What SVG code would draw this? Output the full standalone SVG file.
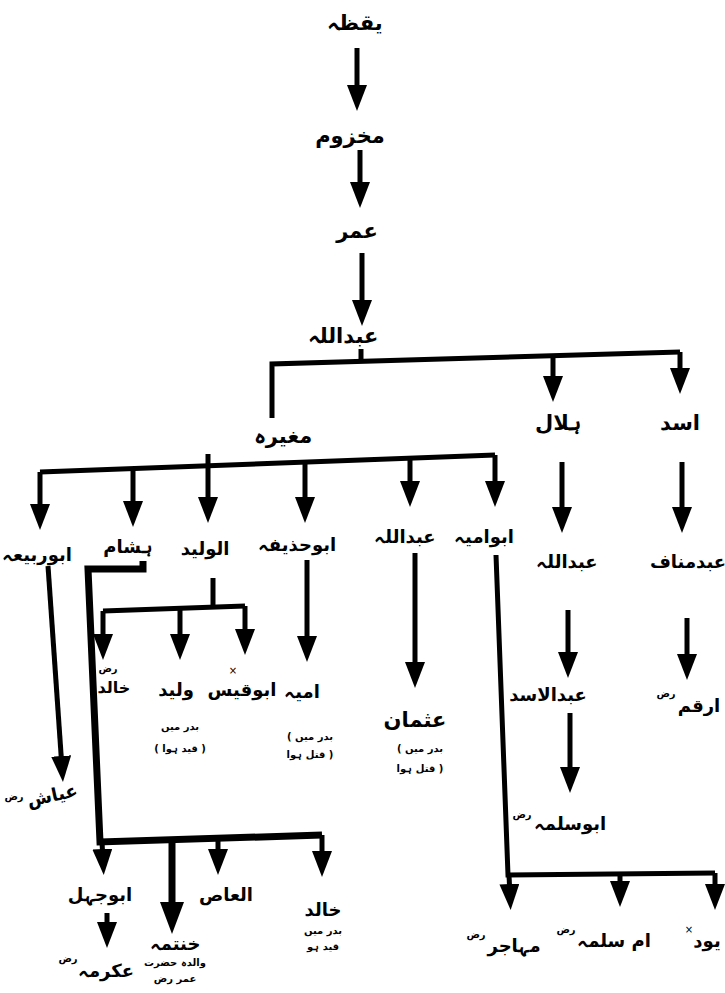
<svg xmlns="http://www.w3.org/2000/svg" width="725" height="993" viewBox="0 0 725 993">
<style>
.c{fill:none;stroke:#000;stroke-width:5;stroke-linejoin:miter}
.ca{fill:none;stroke:#000;stroke-width:5;marker-end:url(#ah)}
.cb{fill:none;stroke:#000;stroke-width:7;marker-end:url(#ahb)}
.n{font-family:"DejaVu Sans","Noto Sans",sans-serif;font-size:21px;font-weight:bold;fill:#000;text-anchor:middle}
.k{font-family:"DejaVu Sans","Noto Sans",sans-serif;font-size:18px;font-weight:bold;fill:#000;text-anchor:middle}
.s{font-family:"DejaVu Sans","Noto Sans",sans-serif;font-size:10px;font-weight:bold;fill:#000;text-anchor:middle}
.m{font-family:"DejaVu Sans","Noto Sans",sans-serif;font-size:10px;fill:#000;text-anchor:middle}
</style>
<defs>
<marker id="ah" markerUnits="userSpaceOnUse" viewBox="0 -10 26 20" refX="12" refY="0" markerWidth="26" markerHeight="20" orient="auto">
<path d="M0,-10 L26,0 L0,10 z" fill="#000"/>
</marker>
<marker id="ahb" markerUnits="userSpaceOnUse" viewBox="0 -12 32 24" refX="14" refY="0" markerWidth="32" markerHeight="24" orient="auto">
<path d="M0,-12 L32,0 L0,12 z" fill="#000"/>
</marker>
</defs>
<rect width="725" height="993" fill="#fff"/>
<g id="connectors">
<path class="ca" d="M357,48 L357,97"/>
<path class="ca" d="M360,150 L360,194"/>
<path class="ca" d="M362,253 L362,312"/>
<path class="c" d="M361,349 L361,362"/>
<path class="c" d="M272,418 L272,364 L680,352"/>
<path class="ca" d="M553,356 L553,388"/>
<path class="ca" d="M680,352 L680,380"/>
<path class="c" d="M40,472 L495,455"/>
<path class="c" d="M208,454 L208,466"/>
<path class="ca" d="M40,472 L40,516"/>
<path class="ca" d="M133,469 L133,513"/>
<path class="ca" d="M208,466 L208,509"/>
<path class="ca" d="M305,462 L305,509"/>
<path class="ca" d="M410,458 L410,493"/>
<path class="ca" d="M495,455 L495,493"/>
<path class="ca" d="M562,462 L562,519"/>
<path class="ca" d="M682,462 L682,519"/>
<path class="ca" d="M568,610 L568,664"/>
<path class="ca" d="M687,618 L687,666"/>
<path class="ca" d="M570,713 L570,779"/>
<path class="ca" d="M415,553 L415,674"/>
<path class="ca" d="M307,560 L307,648"/>
<path class="ca" d="M48,566 L62,768"/>
<path class="c" d="M213,578 L213,609"/>
<path class="c" d="M103,611 L245,606"/>
<path class="ca" d="M103,611 L103,646"/>
<path class="ca" d="M180,608 L180,646"/>
<path class="ca" d="M245,606 L245,641"/>
<path class="c" d="M496,555 L508,875 L715,873"/>
<path class="ca" d="M509,875 L510,896"/>
<path class="ca" d="M620,874 L620,893"/>
<path class="ca" d="M715,873 L715,896"/>
<path class="c" style="stroke-width:7" d="M143,561 L143,569 L88,569 L100,842 L322,835"/>
<path class="ca" d="M102,842 L103,861"/>
<path class="cb" d="M172,840 L172,916"/>
<path class="ca" d="M218,839 L218,861"/>
<path class="ca" d="M322,835 L322,863"/>
<path class="ca" d="M107,913 L107,934"/>
</g>
<g id="n-yaqza"><text class="n" x="355" y="30">یقظہ</text></g>
<g id="n-makhzum"><text class="n" x="350" y="143">مخزوم</text></g>
<g id="n-umar"><text class="n" x="357" y="238">عمر</text></g>
<g id="n-abdullah1"><text class="n" x="343" y="343">عبداللہ</text></g>
<g id="n-mughira"><text class="n" x="283" y="443">مغیرہ</text></g>
<g id="n-hilal"><text class="n" x="558" y="430">ہلال</text></g>
<g id="n-asad"><text class="n" x="680" y="430">اسد</text></g>
<g id="n-aburabia"><text class="k" x="37" y="561">ابوربیعہ</text></g>
<g id="n-hisham"><text class="k" x="128" y="553">ہشام</text></g>
<g id="n-walid"><text class="k" x="205" y="555">الولید</text></g>
<g id="n-abuhudhaifa"><text class="k" x="297" y="551">ابوحذیفہ</text></g>
<g id="n-abdullah2"><text class="k" x="405" y="543">عبداللہ</text></g>
<g id="n-abuumayya"><text class="k" x="484" y="543">ابوامیہ</text></g>
<g id="n-abdullah3"><text class="k" x="567" y="568">عبداللہ</text></g>
<g id="n-abdmanaf"><text class="k" x="688" y="568">عبدمناف</text></g>
<g id="n-arqam"><text class="k" x="699" y="712">ارقم</text><text class="s" x="666" y="697">رض</text></g>
<g id="n-abdulasad"><text class="k" x="548" y="701">عبدالاسد</text></g>
<g id="n-abusalama"><text class="k" x="570" y="830">ابوسلمہ</text><text class="s" x="522" y="818">رض</text></g>
<g id="n-ayyash"><text class="k" x="52" y="803" transform="rotate(-12 45 795)">عیاش</text><text class="s" x="14" y="800">رض</text></g>
<g id="n-khalid1"><text class="k" x="114" y="693" style="font-size:16px">خالد</text><text class="s" x="108" y="672">رض</text></g>
<g id="n-walid2"><text class="k" x="176" y="696">ولید</text><text class="s" x="180" y="730">بدر میں</text><text class="s" x="180" y="752">( قید ہوا )</text></g>
<g id="n-abuqais"><text class="k" x="242" y="696">ابوقیس</text><text class="m" x="233" y="674">×</text></g>
<g id="n-umayya"><text class="k" x="302" y="698">امیہ</text><text class="s" x="310" y="740">( بدر میں</text><text class="s" x="310" y="758">قتل ہوا )</text></g>
<g id="n-uthman"><text class="n" x="415" y="727">عثمان</text><text class="s" x="420" y="752">( بدر میں</text><text class="s" x="420" y="772">قتل ہوا )</text></g>
<g id="n-muhajir"><text class="k" x="514" y="952">مہاجر</text><text class="s" x="476" y="938">رض</text></g>
<g id="n-ummsalama"><text class="k" x="614" y="947">ام سلمہ</text><text class="s" x="566" y="933">رض</text></g>
<g id="n-wud"><text class="k" x="707" y="947">یود</text><text class="m" x="689" y="933">×</text></g>
<g id="n-abujahl"><text class="k" x="100" y="901">ابوجہل</text></g>
<g id="n-ikrima"><text class="k" x="106" y="977">عکرمہ</text><text class="s" x="68" y="962">رض</text></g>
<g id="n-hantama"><text class="k" x="175" y="950">خنتمہ</text><text class="s" x="175" y="966">والدہ حضرت</text><text class="s" x="175" y="982">عمر رض</text></g>
<g id="n-aas"><text class="k" x="226" y="901">العاص</text></g>
<g id="n-khalid2"><text class="k" x="323" y="916">خالد</text><text class="s" x="323" y="934">بدر میں</text><text class="s" x="323" y="950">قید ہو</text></g>
</svg>
